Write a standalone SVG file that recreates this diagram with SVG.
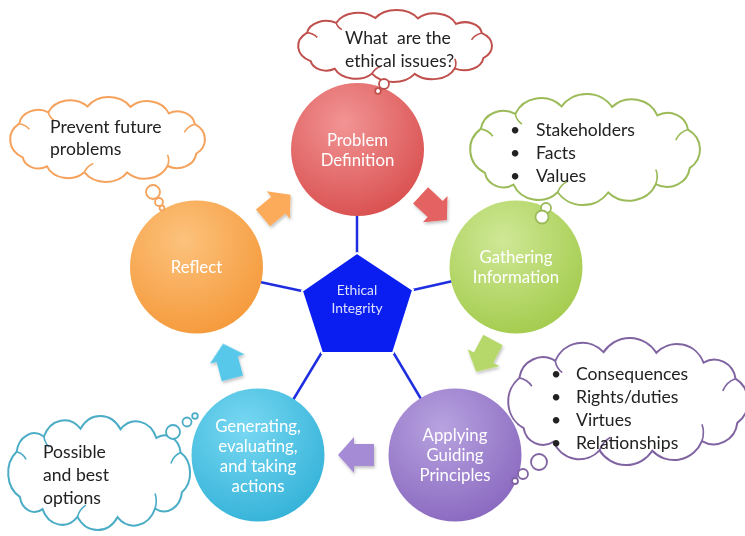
<svg xmlns="http://www.w3.org/2000/svg" xmlns:xlink="http://www.w3.org/1999/xlink" width="745" height="536" viewBox="0 0 745 536">
  <style>
    .cloud { fill: #ffffff; stroke-width: 2; }
    .inner { fill: none; stroke-width: 1.6; }
    .bubble { fill: #ffffff; stroke-width: 1.8; }
    .ctext { font-family: Lato, "Open Sans", "Liberation Sans", sans-serif; font-size: 17.6px; fill: #222222; stroke: none; }
    .ntext { font-family: Lato, "Open Sans", "Liberation Sans", sans-serif; font-size: 16.8px; fill: #ffffff; text-anchor: middle; }
    .ptext { font-family: Lato, "Open Sans", "Liberation Sans", sans-serif; font-size: 13.8px; fill: #dde2ff; text-anchor: middle; }
    .conn { stroke: #1f2fe0; stroke-width: 2.5; fill: none; }
  </style>
  <defs>
    <!-- generic cloud outline in a 200x100 box (lobes span x 20..181.5, y 8.3..91.7) -->
    <path id="cloudShape" vector-effect="non-scaling-stroke" d="M30.5,67.5 A19.9,19.9 0 0 1 27.6,34.5 A16,16 0 0 1 51.8,23.3 A19.8,19.8 0 0 1 84.3,17.6 A21.3,21.3 0 0 1 119.8,18 A19.4,19.4 0 0 1 151.6,24.4 A14.4,14.4 0 0 1 173.1,35 A17.4,17.4 0 0 1 174.3,64 A16,16 0 0 1 150.5,76 A20.4,20.4 0 0 1 117.1,82.3 A21.3,21.3 0 0 1 81.6,82.1 A18.9,18.9 0 0 1 50.6,76.4 A13.2,13.2 0 0 1 30.5,67.5 Z"/>
    <path id="cloudInner" vector-effect="non-scaling-stroke" d="M27.6,34.5 Q33,35.5 36,40 M173.1,35 Q167,37 164.5,43 M150.5,76 Q152.5,70 150.5,65 M81.6,82.1 Q83.5,76.5 89,73.5 M51.8,23.3 Q52.5,28 56.5,31"/>
    <!-- block arrow pointing right, centred on the origin -->
    <polygon id="blockArrow" points="-17,-11 3,-11 3,-18 19,0 3,18 3,11 -17,11"/>
    <filter id="shadow" x="-30%" y="-30%" width="160%" height="160%">
      <feDropShadow dx="1" dy="2" stdDeviation="1.5" flood-color="#000000" flood-opacity="0.25"/>
    </filter>
    <radialGradient id="gRed" cx="40%" cy="30%" r="75%">
      <stop offset="0" stop-color="#f29494"/>
      <stop offset="1" stop-color="#d94f4f"/>
    </radialGradient>
    <radialGradient id="gGreen" cx="40%" cy="30%" r="75%">
      <stop offset="0" stop-color="#cfe896"/>
      <stop offset="1" stop-color="#a3cb4c"/>
    </radialGradient>
    <radialGradient id="gPurple" cx="40%" cy="30%" r="75%">
      <stop offset="0" stop-color="#b8a3e0"/>
      <stop offset="1" stop-color="#8968bf"/>
    </radialGradient>
    <radialGradient id="gCyan" cx="40%" cy="30%" r="75%">
      <stop offset="0" stop-color="#78d8f2"/>
      <stop offset="1" stop-color="#34b2d8"/>
    </radialGradient>
    <radialGradient id="gOrange" cx="40%" cy="30%" r="75%">
      <stop offset="0" stop-color="#fcc27c"/>
      <stop offset="1" stop-color="#f5993a"/>
    </radialGradient>
  </defs>

  <rect width="745" height="536" fill="#ffffff"/>

  <!-- spokes from the centre pentagon to each stage -->
  <g id="connectors">
    <line class="conn" x1="357" y1="253" x2="357" y2="214"/>
    <line class="conn" x1="413" y1="290" x2="453" y2="281"/>
    <line class="conn" x1="393" y1="352" x2="421" y2="399"/>
    <line class="conn" x1="322" y1="352" x2="293" y2="400"/>
    <line class="conn" x1="302" y1="291" x2="260" y2="282"/>
  </g>

  <!-- cycle arrows -->
  <g id="arrows" filter="url(#shadow)">
    <use xlink:href="#blockArrow" transform="translate(276,207) rotate(-40)" fill="#fbab5a"/>
    <use xlink:href="#blockArrow" transform="translate(433,207) rotate(43)" fill="#e46262"/>
    <use xlink:href="#blockArrow" transform="translate(485,355) rotate(118)" fill="#b6d86a"/>
    <use xlink:href="#blockArrow" transform="translate(357,455) rotate(180)" fill="#a58ad6"/>
    <use xlink:href="#blockArrow" transform="translate(228,362) rotate(-105)" fill="#58c8ea"/>
  </g>

  <!-- stage circles -->
  <g id="problem-definition">
    <circle cx="357.5" cy="149.5" r="66.5" fill="url(#gRed)"/>
    <text class="ntext" x="357.5" y="146">Problem</text>
    <text class="ntext" x="357.5" y="166">Definition</text>
  </g>
  <g id="gathering-information">
    <circle cx="516" cy="267" r="66.5" fill="url(#gGreen)"/>
    <text class="ntext" x="516" y="263">Gathering</text>
    <text class="ntext" x="516" y="283">Information</text>
  </g>
  <g id="applying-principles">
    <circle cx="455" cy="455" r="66.5" fill="url(#gPurple)"/>
    <text class="ntext" x="455" y="441">Applying</text>
    <text class="ntext" x="455" y="461">Guiding</text>
    <text class="ntext" x="455" y="481">Principles</text>
  </g>
  <g id="generating-actions">
    <circle cx="258" cy="455" r="66.5" fill="url(#gCyan)"/>
    <text class="ntext" x="258" y="432">Generating,</text>
    <text class="ntext" x="258" y="452">evaluating,</text>
    <text class="ntext" x="258" y="472">and taking</text>
    <text class="ntext" x="258" y="492">actions</text>
  </g>
  <g id="reflect">
    <circle cx="196.5" cy="267" r="66.5" fill="url(#gOrange)"/>
    <text class="ntext" x="196.5" y="273">Reflect</text>
  </g>

  <!-- centre -->
  <g id="ethical-integrity">
    <polygon points="357,253 413,290 393,353 322,353 302,291" fill="#0a1ef2" stroke="#ffffff" stroke-width="2"/>
    <text class="ptext" x="357" y="295">Ethical</text>
    <text class="ptext" x="357" y="313">Integrity</text>
  </g>

  <!-- thought clouds -->
  <g id="cloud-issues" stroke="#c0504d">
    <use xlink:href="#cloudShape" class="cloud" transform="matrix(1.201,0,0,0.863,274,2.84)"/>
    <use xlink:href="#cloudInner" class="inner" transform="matrix(1.201,0,0,0.863,274,2.84)"/>
    <circle class="bubble" cx="384" cy="84" r="5"/>
    <circle class="bubble" cx="378" cy="91" r="2.8"/>
    <text class="ctext" x="345" y="44" style="white-space:pre">What  are the</text>
    <text class="ctext" x="345" y="67">ethical issues?</text>
  </g>

  <g id="cloud-prevent" stroke="#f4a25c">
    <use xlink:href="#cloudShape" class="cloud" transform="matrix(1.207,0,0,1.019,-14.15,88.54)"/>
    <use xlink:href="#cloudInner" class="inner" transform="matrix(1.207,0,0,1.019,-14.15,88.54)"/>
    <circle class="bubble" cx="153" cy="192" r="7"/>
    <circle class="bubble" cx="159" cy="202" r="4"/>
    <circle class="bubble" cx="162" cy="208" r="2.4"/>
    <text class="ctext" x="50" y="133">Prevent future</text>
    <text class="ctext" x="50" y="155">problems</text>
  </g>

  <g id="cloud-gathering" stroke="#9bbb59">
    <use xlink:href="#cloudShape" class="cloud" transform="matrix(1.424,0,0,1.331,441.5,82.95)"/>
    <use xlink:href="#cloudInner" class="inner" transform="matrix(1.424,0,0,1.331,441.5,82.95)"/>
    <circle class="bubble" cx="546" cy="208" r="5"/>
    <circle class="bubble" cx="542" cy="217" r="6.5"/>
    <text class="ctext" x="510" y="136">•</text>
    <text class="ctext" x="536" y="136">Stakeholders</text>
    <text class="ctext" x="510" y="159">•</text>
    <text class="ctext" x="536" y="159">Facts</text>
    <text class="ctext" x="510" y="182">•</text>
    <text class="ctext" x="536" y="182">Values</text>
  </g>

  <g id="cloud-principles" stroke="#8064a2">
    <use xlink:href="#cloudShape" class="cloud" transform="matrix(1.486,0,0,1.523,478.3,325.36)"/>
    <use xlink:href="#cloudInner" class="inner" transform="matrix(1.486,0,0,1.523,478.3,325.36)"/>
    <circle class="bubble" cx="539" cy="462" r="8"/>
    <circle class="bubble" cx="523" cy="474" r="5"/>
    <circle class="bubble" cx="515" cy="481" r="3"/>
    <text class="ctext" x="551" y="380">•</text>
    <text class="ctext" x="576" y="380">Consequences</text>
    <text class="ctext" x="551" y="403">•</text>
    <text class="ctext" x="576" y="403">Rights/duties</text>
    <text class="ctext" x="551" y="426">•</text>
    <text class="ctext" x="576" y="426">Virtues</text>
    <text class="ctext" x="551" y="449">•</text>
    <text class="ctext" x="576" y="449">Relationships</text>
  </g>

  <g id="cloud-options" stroke="#4bacc6">
    <use xlink:href="#cloudShape" class="cloud" transform="matrix(1.127,0,0,1.367,-14.5,404.65)"/>
    <use xlink:href="#cloudInner" class="inner" transform="matrix(1.127,0,0,1.367,-14.5,404.65)"/>
    <circle class="bubble" cx="173" cy="432" r="7"/>
    <circle class="bubble" cx="187" cy="422" r="4.5"/>
    <circle class="bubble" cx="195" cy="416" r="2.8"/>
    <text class="ctext" x="43" y="458">Possible</text>
    <text class="ctext" x="43" y="481">and best</text>
    <text class="ctext" x="43" y="504">options</text>
  </g>
</svg>
